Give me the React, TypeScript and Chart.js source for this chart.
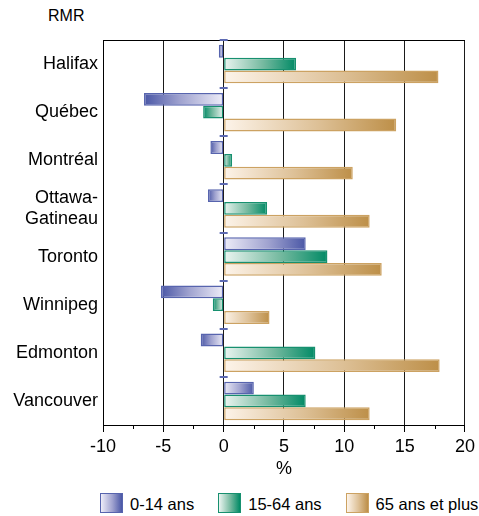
import React, { useEffect, useRef } from "react";
import { Chart, registerables } from "chart.js";

Chart.register(...registerables);

const categories: (string | string[])[] = [
  "Halifax",
  "Québec",
  "Montréal",
  ["Ottawa-", "Gatineau"],
  "Toronto",
  "Winnipeg",
  "Edmonton",
  "Vancouver",
];
const age0to14 = [-0.4, -6.6, -1.1, -1.3, 6.8, -5.2, -1.9, 2.5];
const age15to64 = [6.0, -1.7, 0.7, 3.6, 8.6, -0.9, 7.6, 6.8];
const age65plus = [17.8, 14.3, 10.7, 12.1, 13.1, 3.8, 17.9, 12.1];
const seriesLabels = ["0-14 ans", "15-64 ans", "65 ans et plus"];
const xMin = -10;
const xMax = 20;
const xStep = 5;
const yTitle = "RMR";
const xTitle = "%";

const FONT = "'Liberation Sans', Arial, Helvetica, sans-serif";

const palettes = [
  { light: "#eeedf8", mid: "#9fa2cf", dark: "#4a57a6", border: "#5764ae" },
  { light: "#ecf5f1", mid: "#74b99f", dark: "#008a65", border: "#17906f" },
  { light: "#fdf4ea", mid: "#ddc096", dark: "#bd8f48", border: "#cca262" },
];

function gradientFill(pal: typeof palettes[0]) {
  return (ctx: any) => {
    const chart = ctx.chart;
    if (!chart.chartArea || ctx.type !== "data") return pal.dark;
    const xs = chart.scales.x;
    const v = ctx.raw as number;
    const x0 = xs.getPixelForValue(0);
    const x1 = xs.getPixelForValue(v);
    if (Math.abs(x1 - x0) < 0.5) return pal.dark;
    const g = chart.ctx.createLinearGradient(x0, 0, x1, 0);
    g.addColorStop(0, pal.light);
    g.addColorStop(0.55, pal.mid);
    g.addColorStop(1, pal.dark);
    return g;
  };
}

const decorPlugin = {
  id: "decor",
  afterDatasetsDraw(chart: any) {
    const { ctx, chartArea, scales } = chart;
    const xs = scales.x;
    const ys = scales.y;
    ctx.save();
    ctx.strokeStyle = "#000";
    ctx.lineWidth = 1;
    ctx.beginPath();
    ctx.moveTo(chartArea.left, Math.round(chartArea.top) + 0.5);
    ctx.lineTo(chartArea.right, Math.round(chartArea.top) + 0.5);
    ctx.stroke();
    ctx.beginPath();
    for (let v = xMin; v < xMax; v += xStep) {
      const px = Math.round(xs.getPixelForValue(v + xStep / 2)) + 0.5;
      ctx.moveTo(px, chartArea.bottom);
      ctx.lineTo(px, chartArea.bottom + 4);
    }
    ctx.stroke();
    const zx = xs.getPixelForValue(0);
    ctx.strokeStyle = "#5d6ab3";
    ctx.lineWidth = 2;
    ctx.beginPath();
    for (let i = 0; i < categories.length; i++) {
      const y =
        i === 0
          ? chartArea.top
          : (ys.getPixelForValue(i - 1) + ys.getPixelForValue(i)) / 2;
      ctx.moveTo(zx - 4, Math.round(y));
      ctx.lineTo(zx + 4, Math.round(y));
    }
    ctx.stroke();
    ctx.restore();
  },
};

export default function App() {
  const ref = useRef<HTMLCanvasElement | null>(null);

  useEffect(() => {
    if (!ref.current) return;
    const series = [age0to14, age15to64, age65plus];
    const chart = new Chart(ref.current, {
      type: "bar",
      data: {
        labels: categories as any,
        datasets: series.map((d, i) => ({
          label: seriesLabels[i],
          data: d,
          backgroundColor: gradientFill(palettes[i]),
          borderColor: palettes[i].border,
          borderWidth: 1.5,
          borderSkipped: false,
          categoryPercentage: 0.8,
          barPercentage: 1.0,
        })),
      },
      options: {
        indexAxis: "y",
        responsive: false,
        animation: false,
        devicePixelRatio: 1,
        layout: { padding: { top: 40, left: 0, right: 14, bottom: 0 } },
        plugins: {
          legend: { display: false },
          tooltip: { enabled: false },
          title: { display: false },
        },
        scales: {
          x: {
            type: "linear",
            min: xMin,
            max: xMax,
            afterFit: (s: any) => {
              s.height = 60;
            },
            ticks: {
              stepSize: xStep,
              color: "#000",
              padding: 4,
              font: { family: FONT, size: 18 },
            },
            grid: {
              color: "#1a1a1a",
              lineWidth: 1,
              drawTicks: true,
              tickLength: 7,
              tickColor: "#000",
            },
            border: { display: true, color: "#000", width: 1 },
            title: {
              display: true,
              text: xTitle,
              color: "#000",
              font: { family: FONT, size: 18 },
              padding: { top: 0, bottom: 5 },
            },
          },
          y: {
            type: "category",
            afterFit: (s: any) => {
              s.width = 103;
            },
            ticks: {
              color: "#000",
              padding: 5,
              font: { family: FONT, size: 18 },
            },
            grid: { display: false, drawTicks: false },
            border: { display: true, color: "#000", width: 1 },
          },
        },
      },
      plugins: [decorPlugin],
    } as any);
    return () => chart.destroy();
  }, []);

  return (
    <div
      style={{
        position: "absolute",
        left: 0,
        top: 0,
        width: 479,
        height: 516,
        background: "#fff",
        fontFamily: FONT,
        overflow: "hidden",
      }}
    >
      <div
        style={{
          position: "absolute",
          left: 48,
          top: 6,
          fontSize: 16,
          color: "#000",
          lineHeight: "20px",
        }}
      >
        {yTitle}
      </div>
      <canvas
        ref={ref}
        width={479}
        height={485}
        style={{ position: "absolute", left: 0, top: 0, width: 479, height: 485 }}
      />
      <div
        style={{
          position: "absolute",
          left: 100,
          top: 492,
          display: "flex",
          alignItems: "center",
          gap: 24,
          fontSize: 16.5,
          color: "#000",
          whiteSpace: "nowrap",
        }}
      >
        {seriesLabels.map((lab, i) => (
          <div key={lab} style={{ display: "flex", alignItems: "center" }}>
            <span
              style={{
                display: "inline-block",
                boxSizing: "border-box",
                width: 23,
                height: 20,
                border: `1px solid ${palettes[i].border}`,
                background: `linear-gradient(to right, ${palettes[i].light}, ${palettes[i].mid} 55%, ${palettes[i].dark})`,
                marginRight: 7,
              }}
            />
            <span style={{ lineHeight: "20px", paddingTop: 2 }}>{lab}</span>
          </div>
        ))}
      </div>
    </div>
  );
}
